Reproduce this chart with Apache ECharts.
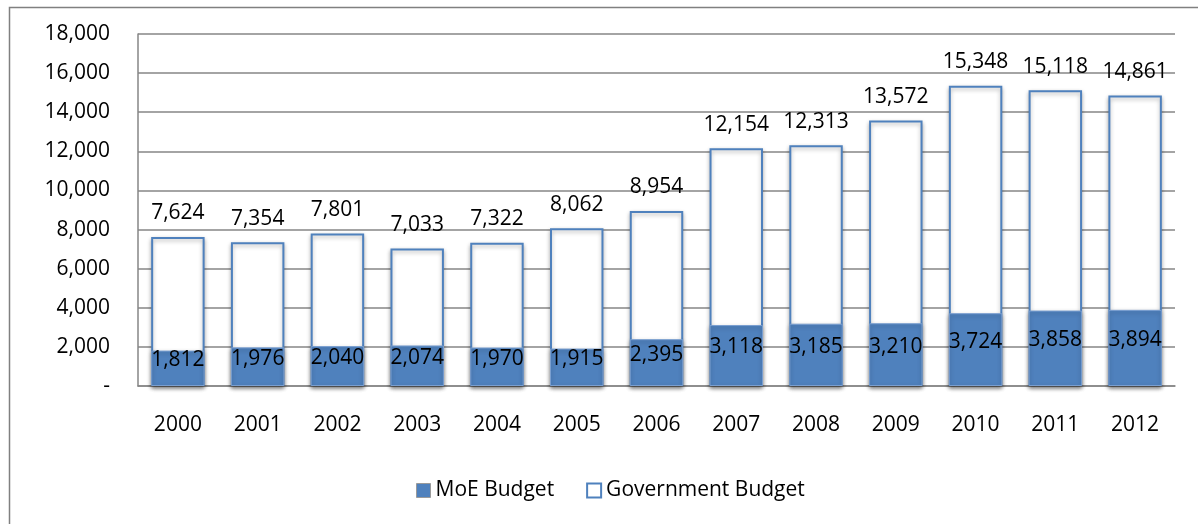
<!DOCTYPE html>
<html>
<head>
<meta charset="utf-8">
<script src="https://cdn.jsdelivr.net/npm/echarts@6/dist/echarts.min.js"></script>
<style>
html,body{margin:0;padding:0;background:#fff;}
#chart{width:1198px;height:524px;}
</style>
</head>
<body>
<div id="chart"></div>
<script>
const categories = ['2000','2001','2002','2003','2004','2005','2006','2007','2008','2009','2010','2011','2012'];
const moeBudget = [1812,1976,2040,2074,1970,1915,2395,3118,3185,3210,3724,3858,3894];
const govBudget = [7624,7354,7801,7033,7322,8062,8954,12154,12313,13572,15348,15118,14861];
const yTicks = [0,2000,4000,6000,8000,10000,12000,14000,16000,18000];

const FONT = 'Open Sans';
const BLUE = '#4F81BD';
const NUM = 21;
const fmt = v => v === 0 ? '-' : v.toLocaleString('en-US');

const chart = echarts.init(document.getElementById('chart'), null, {renderer:'canvas'});
chart.setOption({
  animation: false,
  backgroundColor: '#fff',
  textStyle: {fontFamily: FONT},
  graphic: [{
    type: 'rect', left: 7, top: 5, silent: true, z: 100,
    shape: {width: 1300, height: 600},
    style: {fill: 'none', stroke: '#808080', lineWidth: 1.5}
  }],
  grid: {left: 138, top: 34, right: 23, bottom: 138},
  legend: {
    bottom: 18, left: 411,
    itemWidth: 14, itemHeight: 14, itemGap: 32,
    textStyle: {fontFamily: FONT, fontSize: 21, color: '#000'},
    data: [
      {name: 'MoE Budget', icon: 'rect', itemStyle: {color: BLUE, borderColor: '#9a9a9a', borderWidth: 1}},
      {name: 'Government Budget', icon: 'rect', itemStyle: {color: '#fff', borderColor: BLUE, borderWidth: 2}}
    ]
  },
  xAxis: {
    type: 'category', data: categories,
    axisLine: {lineStyle: {color: '#868686', width: 1.5}},
    axisTick: {show: false},
    axisLabel: {color: '#000', fontSize: NUM, fontFamily: FONT, margin: 29}
  },
  yAxis: {
    type: 'value', min: 0, max: 18000, interval: 2000,
    axisLine: {show: true, lineStyle: {color: '#868686', width: 1.5}},
    axisTick: {show: false},
    splitLine: {lineStyle: {color: '#868686', width: 1.5}},
    axisLabel: {color: '#000', fontSize: NUM, fontFamily: FONT, margin: 28,
      formatter: v => yTicks.includes(v) ? fmt(v) : ''}
  },
  series: [
    {
      name: 'Government Budget', type: 'bar', data: govBudget,
      barWidth: '67%', barGap: '-100%', z: 2,
      itemStyle: {color: '#fff', borderColor: BLUE, borderWidth: 2,
        shadowColor: 'rgba(0,0,0,0.3)', shadowBlur: 4, shadowOffsetY: 2},
      label: {show: true, position: 'top', distance: 13, color: '#000',
        fontSize: NUM, fontFamily: FONT, formatter: p => fmt(p.value)}
    },
    {
      name: 'MoE Budget', type: 'bar', data: moeBudget,
      barWidth: '67%', barGap: '-100%', z: 3,
      itemStyle: {color: BLUE, borderColor: '#7a9fd0', borderWidth: 1,
        shadowColor: 'rgba(0,0,0,0.3)', shadowBlur: 4, shadowOffsetY: 2},
      label: {show: true, position: 'inside', offset: [0, -8], color: '#000',
        fontSize: NUM, fontFamily: FONT, formatter: p => fmt(p.value)}
    }
  ]
});
</script>
</body>
</html>
